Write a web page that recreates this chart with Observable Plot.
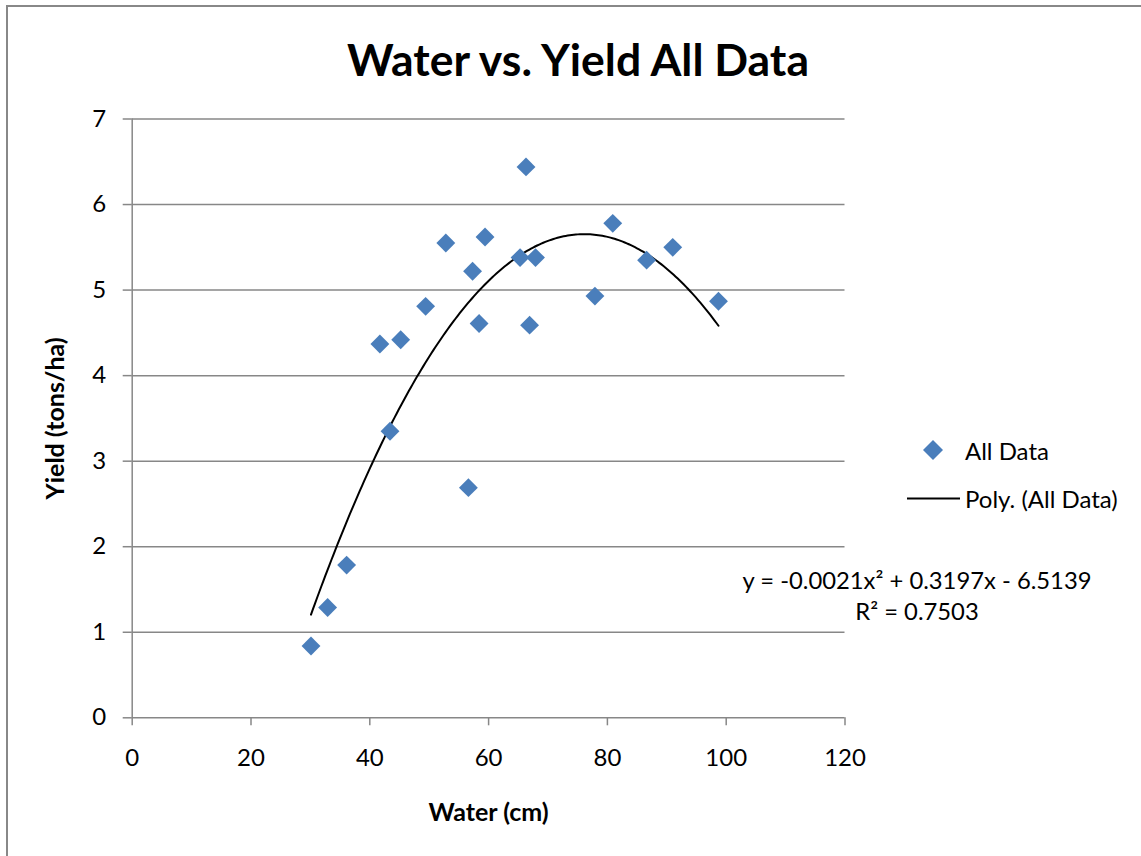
<!DOCTYPE html>
<html>
<head>
<meta charset="utf-8">
<script src="https://cdn.jsdelivr.net/npm/d3@7"></script>
<script src="https://cdn.jsdelivr.net/npm/@observablehq/plot@0.6"></script>
<style>
  html, body { margin: 0; padding: 0; background: #fff; }
  #wrap { position: relative; width: 1141px; height: 856px; overflow: hidden; font-family: Lato, "Open Sans", sans-serif; color: #000; }
  #border { position: absolute; left: 6px; top: 5px; width: 1200px; height: 900px; border-left: 2px solid #888; border-top: 2px solid #888; }
  #title { position: absolute; left: 578px; top: 58px; transform: translate(-50%, -50%); font-weight: bold; font-size: 44.5px; white-space: nowrap; }
  #chart { position: absolute; left: 0; top: 80px; }
  .leg { position: absolute; font-size: 24px; white-space: nowrap; }
  .eq { position: absolute; left: 917px; transform: translate(-50%, -50%); font-size: 23.8px; white-space: nowrap; }
</style>
</head>
<body>
<div id="wrap">
  <div id="border"></div>
  <div id="title">Water vs. Yield All Data</div>
  <div id="chart"></div>
  <svg class="leg" style="left:923px; top:440px;" width="20" height="20"><path d="M10,0L20,10L10,20L0,10Z" fill="#4a7ebb"/></svg>
  <div class="leg" style="left:965px; top:450px; transform: translateY(-50%);">All Data</div>
  <svg class="leg" style="left:907px; top:497px;" width="53" height="3"><line x1="0" x2="53" y1="1.5" y2="1.5" stroke="#000" stroke-width="2"/></svg>
  <div class="leg" style="left:965px; top:498px; transform: translateY(-50%);">Poly. (All Data)</div>
  <div class="eq" style="top:580px;">y = -0.0021x² + 0.3197x - 6.5139</div>
  <div class="eq" style="top:611px;">R² = 0.7503</div>
</div>
<script>
const water = [30.1, 32.9, 36.1, 41.7, 43.4, 45.2, 49.4, 52.8, 56.6, 57.3, 58.4, 59.4, 65.3, 66.3, 66.9, 67.9, 77.9, 80.9, 86.6, 91.0, 98.7];
const yieldTons = [0.84, 1.29, 1.785, 4.37, 3.35, 4.42, 4.81, 5.55, 2.69, 5.22, 4.61, 5.62, 5.38, 6.44, 4.59, 5.38, 4.93, 5.78, 5.35, 5.50, 4.87];
// Trendline coefficients as displayed on the chart (a, b, c of y = a x^2 + b x + c)
const polyCoef = [-0.0021, 0.3197, -6.5139];
const xTicks = [0, 20, 40, 60, 80, 100, 120];
const yTicks = [0, 1, 2, 3, 4, 5, 6, 7];

const points = water.map((w, i) => ({water: w, yield: yieldTons[i]}));
const xMin = d3.min(water), xMax = d3.max(water);
const trend = d3.range(0, 201).map(i => {
  const x = xMin + (xMax - xMin) * i / 200;
  return {water: x, yield: polyCoef[0] * x * x + polyCoef[1] * x + polyCoef[2]};
});

const grid = "#878787";
const chart = Plot.plot({
  width: 1141,
  height: 776,
  marginLeft: 131.7,
  marginRight: 296.5,
  marginTop: 38.5,
  marginBottom: 138.7,
  x: {domain: [0, 120]},
  y: {domain: [0, 7]},
  style: {fontFamily: "Lato, 'Open Sans', sans-serif", fontSize: "24px", color: "#000", background: "transparent", overflow: "visible"},
  marks: [
    Plot.gridY(yTicks, {stroke: grid, strokeOpacity: 1, strokeWidth: 1.5}),
    Plot.ruleX([0], {stroke: grid, strokeWidth: 1.5}),
    Plot.axisY(yTicks, {tickSize: 9, tickPadding: 17, stroke: grid, strokeWidth: 1.5, fill: "#000", tickFormat: d3.format("d"), label: null}),
    Plot.axisX(xTicks, {tickSize: 8, tickPadding: 23, stroke: grid, strokeWidth: 1.5, fill: "#000", tickFormat: d3.format("d"), label: null}),
    Plot.text(["Yield (tons/ha)"], {frameAnchor: "left", dx: -76, rotate: -90, textAnchor: "middle", lineAnchor: "middle", fontWeight: "bold", fontSize: 25}),
    Plot.text(["Water (cm)"], {frameAnchor: "bottom", dy: 95, textAnchor: "middle", lineAnchor: "middle", fontWeight: "bold", fontSize: 25}),
    Plot.line(trend, {x: "water", y: "yield", stroke: "#000", strokeWidth: 2}),
    Plot.dot(points, {x: "water", y: "yield", symbol: "diamond2", r: 8.5, fill: "#4a7ebb", stroke: "none"})
  ]
});
document.getElementById("chart").appendChild(chart);
</script>
</body>
</html>
